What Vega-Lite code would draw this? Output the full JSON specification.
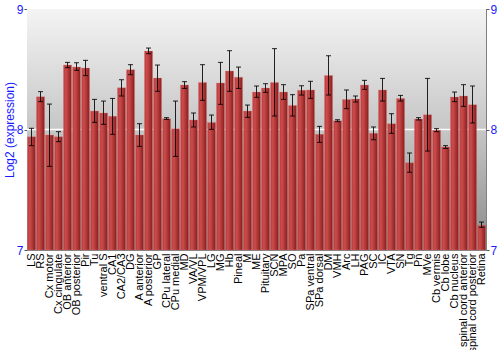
{
  "$schema": "https://vega.github.io/schema/vega-lite/v6.json",
  "autosize": "none",
  "width": 459,
  "height": 241,
  "padding": {"left": 27, "top": 9, "right": 14, "bottom": 100},
  "background": "white",
  "config": {
    "view": {"stroke": "#808080", "strokeWidth": 1},
    "font": "Liberation Sans"
  },
  "data": {"values": [
    {"region": "LS", "value": 7.94, "lo": 7.866, "hi": 8.01},
    {"region": "RS", "value": 8.272, "lo": 8.231, "hi": 8.314},
    {"region": "Cx motor", "value": 7.954, "lo": 7.694, "hi": 8.211},
    {"region": "Cx cingulate", "value": 7.94, "lo": 7.899, "hi": 7.982},
    {"region": "OB anterior", "value": 8.535, "lo": 8.513, "hi": 8.557},
    {"region": "OB posterior", "value": 8.518, "lo": 8.491, "hi": 8.554},
    {"region": "Pir", "value": 8.51, "lo": 8.447, "hi": 8.574},
    {"region": "Tu", "value": 8.153, "lo": 8.059, "hi": 8.25},
    {"region": "ventral S", "value": 8.137, "lo": 8.043, "hi": 8.236},
    {"region": "CA1", "value": 8.109, "lo": 7.96, "hi": 8.258},
    {"region": "CA2/CA3", "value": 8.347, "lo": 8.278, "hi": 8.413},
    {"region": "DG", "value": 8.496, "lo": 8.455, "hi": 8.538},
    {"region": "A anterior", "value": 7.954, "lo": 7.86, "hi": 8.048},
    {"region": "A posterior", "value": 8.651, "lo": 8.629, "hi": 8.676},
    {"region": "GP", "value": 8.427, "lo": 8.317, "hi": 8.535},
    {"region": "CPu lateral", "value": 8.09, "lo": 8.084, "hi": 8.098},
    {"region": "CPu medial", "value": 8.007, "lo": 7.777, "hi": 8.236},
    {"region": "MD", "value": 8.369, "lo": 8.341, "hi": 8.397},
    {"region": "VA/VL", "value": 8.079, "lo": 8.021, "hi": 8.137},
    {"region": "VPM/VPL", "value": 8.391, "lo": 8.242, "hi": 8.538},
    {"region": "LG", "value": 8.059, "lo": 8.001, "hi": 8.12},
    {"region": "MG", "value": 8.386, "lo": 8.209, "hi": 8.557},
    {"region": "Hb", "value": 8.485, "lo": 8.317, "hi": 8.654},
    {"region": "Pineal", "value": 8.433, "lo": 8.341, "hi": 8.518},
    {"region": "M", "value": 8.153, "lo": 8.101, "hi": 8.203},
    {"region": "ME", "value": 8.311, "lo": 8.267, "hi": 8.361},
    {"region": "Pituitary", "value": 8.344, "lo": 8.308, "hi": 8.38},
    {"region": "SCN", "value": 8.391, "lo": 8.112, "hi": 8.671},
    {"region": "MPA", "value": 8.311, "lo": 8.25, "hi": 8.372},
    {"region": "SO", "value": 8.2, "lo": 8.112, "hi": 8.289},
    {"region": "Pa", "value": 8.325, "lo": 8.286, "hi": 8.363},
    {"region": "SPa ventral", "value": 8.328, "lo": 8.258, "hi": 8.4},
    {"region": "SPa dorsal", "value": 7.96, "lo": 7.893, "hi": 8.026},
    {"region": "DM", "value": 8.449, "lo": 8.286, "hi": 8.612},
    {"region": "VMH", "value": 8.073, "lo": 8.065, "hi": 8.081},
    {"region": "Arc", "value": 8.25, "lo": 8.173, "hi": 8.328},
    {"region": "LH", "value": 8.253, "lo": 8.228, "hi": 8.278},
    {"region": "PAG", "value": 8.369, "lo": 8.333, "hi": 8.408},
    {"region": "SC", "value": 7.968, "lo": 7.915, "hi": 8.021},
    {"region": "IC", "value": 8.328, "lo": 8.236, "hi": 8.424},
    {"region": "VTA", "value": 8.048, "lo": 7.968, "hi": 8.131},
    {"region": "SN", "value": 8.258, "lo": 8.236, "hi": 8.283},
    {"region": "Tg", "value": 7.724, "lo": 7.645, "hi": 7.805},
    {"region": "Pn", "value": 8.087, "lo": 8.079, "hi": 8.098},
    {"region": "MVe", "value": 8.123, "lo": 7.821, "hi": 8.424},
    {"region": "Cb vermis", "value": 7.993, "lo": 7.982, "hi": 8.007},
    {"region": "Cb lobe", "value": 7.855, "lo": 7.843, "hi": 7.866},
    {"region": "Cb nucleus", "value": 8.269, "lo": 8.231, "hi": 8.311},
    {"region": "spinal cord anterior", "value": 8.278, "lo": 8.192, "hi": 8.372},
    {"region": "spinal cord posterior", "value": 8.206, "lo": 8.054, "hi": 8.361},
    {"region": "Retina", "value": 7.205, "lo": 7.188, "hi": 7.232}
  ]},
  "layer": [
    {
      "data": {"values": [{"lo": 7, "hi": 9}]},
      "mark": {
        "type": "rect",
        "color": {
          "gradient": "linear", "x1": 0, "y1": 0, "x2": 0, "y2": 1,
          "stops": [
            {"offset": 0, "color": "#f4f4f4"},
            {"offset": 0.5, "color": "#c6c6c6"},
            {"offset": 1, "color": "#8a8a8a"}
          ]
        }
      },
      "encoding": {
        "y": {"field": "hi", "type": "quantitative", "scale": {"domain": [7, 9], "zero": false, "nice": false},
          "axis": {"orient": "left", "values": [7, 8, 9], "format": ".0f", "labelOverlap": false, "title": "Log2 (expression)", "titleColor": "#1a1aff", "titleFontSize": 12, "titleFontWeight": "normal", "titlePadding": 0, "labelColor": "#1a1aff", "labelFontSize": 12, "grid": false, "domain": false, "tickColor": "#555", "tickSize": 3, "labelPadding": 1}},
        "y2": {"field": "lo"}
      }
    },
    {
      "data": {"values": [{"v": 8}]},
      "mark": {"type": "rule", "color": "white", "strokeWidth": 1.5},
      "encoding": {
        "y": {"field": "v", "type": "quantitative", "axis": {"orient": "right", "values": [7, 8, 9], "format": ".0f", "labelOverlap": false, "title": null, "labelColor": "#1a1aff", "labelFontSize": 12, "grid": false, "domain": false, "tickColor": "#555", "tickSize": 3, "labelPadding": 1}}
      }
    },
    {
      "mark": {
        "type": "bar",
        "stroke": "#e08080", "strokeOpacity": 0.5, "strokeWidth": 0.6,
        "color": {
          "gradient": "linear", "x1": 0, "y1": 0, "x2": 1, "y2": 0,
          "stops": [
            {"offset": 0, "color": "#b83a3a"},
            {"offset": 0.3, "color": "#cc4c4c"},
            {"offset": 1, "color": "#8a1c1c"}
          ]
        }
      },
      "encoding": {
        "x": {"field": "region", "type": "nominal", "sort": null, "scale": {"paddingInner": 0.1, "paddingOuter": 0.05},
          "axis": {"title": null, "labelAngle": 270, "labelFontSize": 11, "labelColor": "black", "ticks": false, "domain": false, "labelPadding": 3}},
        "y": {"field": "value", "type": "quantitative", "axis": null},
        "y2": {"datum": 7}
      }
    },
    {
      "mark": {"type": "rule", "color": "black", "opacity": 0.85, "strokeWidth": 1},
      "encoding": {
        "x": {"field": "region", "type": "nominal", "sort": null},
        "y": {"field": "lo", "type": "quantitative", "axis": null},
        "y2": {"field": "hi"}
      }
    },
    {
      "mark": {"type": "tick", "color": "black", "opacity": 0.85, "thickness": 1, "size": 5},
      "encoding": {
        "x": {"field": "region", "type": "nominal", "sort": null},
        "y": {"field": "lo", "type": "quantitative", "axis": null}
      }
    },
    {
      "mark": {"type": "tick", "color": "black", "opacity": 0.85, "thickness": 1, "size": 5},
      "encoding": {
        "x": {"field": "region", "type": "nominal", "sort": null},
        "y": {"field": "hi", "type": "quantitative", "axis": null}
      }
    }
  ],
  "resolve": {"axis": {"y": "independent"}}
}
